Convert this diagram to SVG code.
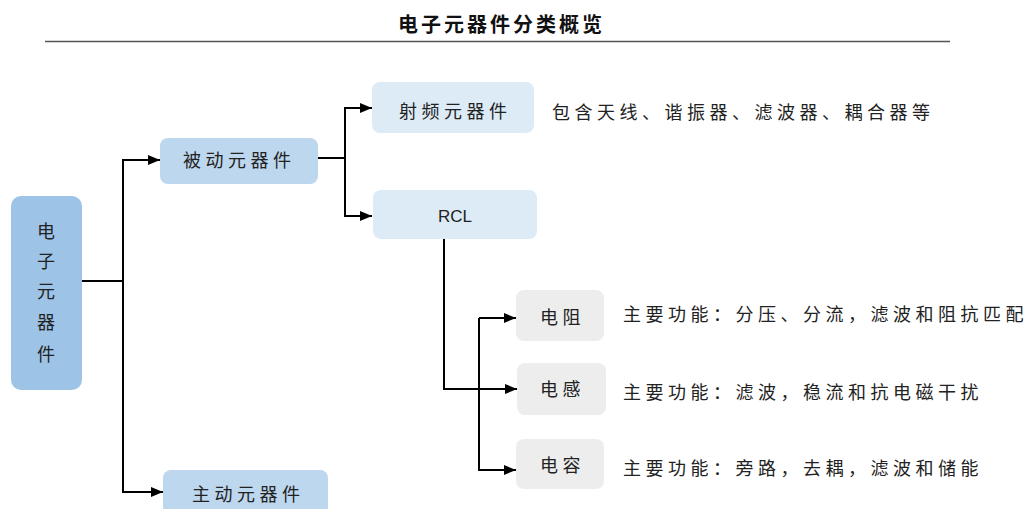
<svg xmlns="http://www.w3.org/2000/svg" width="1031" height="509" viewBox="0 0 1031 509">
<defs>
<style>
.t{font-family:"Noto Sans CJK SC","Noto Sans",sans-serif;font-size:18px;fill:#222;letter-spacing:4.5px}
.title{font-family:"Noto Sans CJK SC",sans-serif;font-size:20px;font-weight:bold;fill:#111;letter-spacing:3px}
.c{stroke:#000;stroke-width:2;fill:none}
.ca{stroke:#000;stroke-width:2;fill:none;marker-end:url(#ah)}
</style>
<marker id="ah" viewBox="0 0 12 10" refX="12" refY="5" markerWidth="12" markerHeight="10" markerUnits="userSpaceOnUse" orient="auto">
<path d="M0,0 L12,5 L0,10 Z" fill="#000"/>
</marker>
</defs>
<rect width="1031" height="509" fill="#fff"/>
<g id="title">
<text class="title" x="398" y="32">电子元器件分类概览</text>
<line x1="45" y1="41.5" x2="950" y2="41.5" stroke="#555" stroke-width="1.5"/>
</g>
<g id="connectors">
<polyline class="c" points="82,281 123,281"/>
<polyline class="ca" points="123,281 123,160 160,160"/>
<polyline class="ca" points="123,281 123,492 163,492"/>
<polyline class="c" points="318,158 345,158"/>
<polyline class="ca" points="345,158 345,108 372,108"/>
<polyline class="ca" points="345,158 345,216 372,216"/>
<polyline class="ca" points="444,239 444,389 517,389"/>
<polyline class="c" points="479,389 479,318"/>
<polyline class="ca" points="479,318 516,318"/>
<polyline class="ca" points="479,389 479,470 516,470"/>
</g>
<g id="root">
<rect x="11" y="196" width="71" height="194" rx="10" fill="#9DC3E6"/>
<text class="t" x="46" y="238" text-anchor="middle" style="letter-spacing:0">电</text>
<text class="t" x="46" y="268" text-anchor="middle" style="letter-spacing:0">子</text>
<text class="t" x="46" y="298" text-anchor="middle" style="letter-spacing:0">元</text>
<text class="t" x="46" y="329" text-anchor="middle" style="letter-spacing:0">器</text>
<text class="t" x="46" y="361" text-anchor="middle" style="letter-spacing:0">件</text>
</g>
<g id="passive">
<rect x="160" y="138" width="158" height="46" rx="8" fill="#BDD7EE"/>
<text class="t" x="183" y="167">被动元器件</text>
</g>
<g id="active">
<rect x="163" y="470" width="165" height="50" rx="8" fill="#BDD7EE"/>
<text class="t" x="192" y="501">主动元器件</text>
</g>
<g id="rf">
<rect x="372" y="82" width="162" height="51" rx="8" fill="#DDEBF7"/>
<text class="t" x="399" y="118">射频元器件</text>
<text class="t" x="552" y="119">包含天线、谐振器、滤波器、耦合器等</text>
</g>
<g id="rcl">
<rect x="373" y="190" width="164" height="49" rx="8" fill="#DDEBF7"/>
<text x="455" y="222" text-anchor="middle" font-family="Liberation Sans,sans-serif" font-size="17" fill="#222">RCL</text>
</g>
<g id="resistor">
<rect x="516" y="290" width="88" height="51" rx="8" fill="#EDEDED"/>
<text class="t" x="540" y="324">电阻</text>
<text class="t" x="623" y="321">主要功能：分压、分流，滤波和阻抗匹配</text>
</g>
<g id="inductor">
<rect x="517" y="363" width="89" height="52" rx="8" fill="#EDEDED"/>
<text class="t" x="540" y="396">电感</text>
<text class="t" x="623" y="399">主要功能：滤波，稳流和抗电磁干扰</text>
</g>
<g id="capacitor">
<rect x="516" y="439" width="88" height="50" rx="8" fill="#EDEDED"/>
<text class="t" x="540" y="472">电容</text>
<text class="t" x="623" y="475">主要功能：旁路，去耦，滤波和储能</text>
</g>
</svg>
